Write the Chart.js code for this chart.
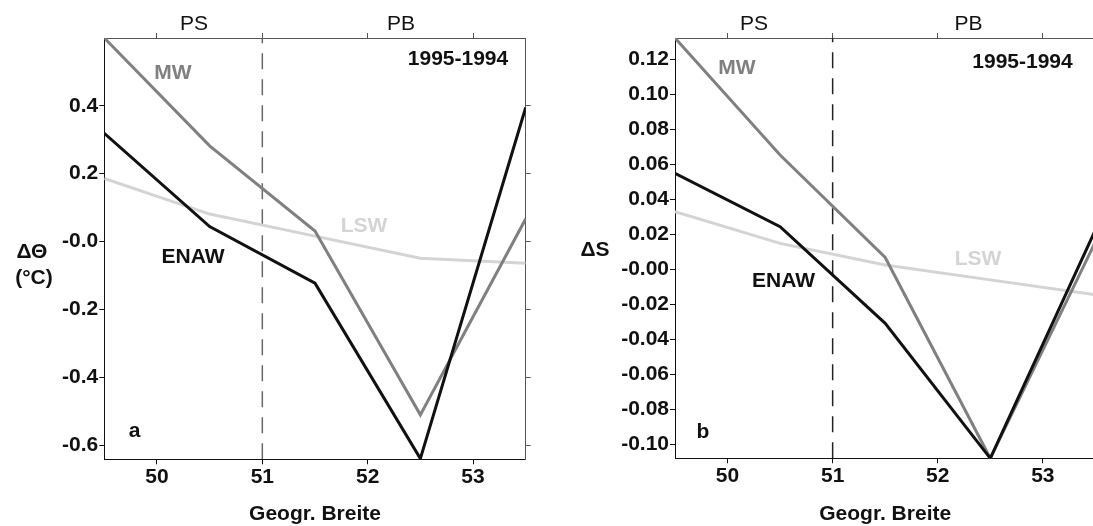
<!DOCTYPE html>
<html>
<head>
<meta charset="utf-8">
<script src="https://cdn.jsdelivr.net/npm/chart.js@4/dist/chart.umd.min.js"></script>
<style>
  html, body { margin: 0; padding: 0; background: #fff; overflow: hidden; width: 1093px; height: 526px; }
  canvas { position: absolute; top: 0; }
  #cTheta { left: 0; }
  #cSal { left: 546px; }
</style>
</head>
<body>
<canvas id="cTheta" width="546" height="526"></canvas>
<canvas id="cSal" width="570" height="526"></canvas>
<script>
// Stationen (geogr. Breite)
const lat = [49.5, 50.5, 51.5, 52.5, 53.5];

// a: Temperaturdifferenz 1995-1994
const thetaMW   = [0.600, 0.282, 0.031, -0.511, 0.067];
const thetaENAW = [0.319, 0.044, -0.123, -0.640, 0.395];
const thetaLSW  = [0.186, 0.081, 0.016, -0.049, -0.064];

// b: Salzgehaltsdifferenz 1995-1994
const salMW   = [0.1320, 0.0652, 0.0068, -0.1078, 0.0157];
const salENAW = [0.0548, 0.0243, -0.0308, -0.1078, 0.0225];
const salLSW  = [0.0329, 0.0148, 0.0025, -0.0060, -0.0145];

// Achsen
const xTicks = [50, 51, 52, 53];
const xTickLabels = ['50', '51', '52', '53'];
const thetaTicks = [0.4, 0.2, 0, -0.2, -0.4, -0.6];
const thetaTickLabels = ['0.4', '0.2', '-0.0', '-0.2', '-0.4', '-0.6'];
const salTicks = [0.12, 0.10, 0.08, 0.06, 0.04, 0.02, 0, -0.02, -0.04, -0.06, -0.08, -0.10];
const salTickLabels = ['0.12', '0.10', '0.08', '0.06', '0.04', '0.02', '-0.00', '-0.02', '-0.04', '-0.06', '-0.08', '-0.10'];
const frontLat = 51;

const FONT = "'Liberation Sans', Arial, Helvetica, sans-serif";
const pts = (ys) => ys.map((y, i) => ({ x: lat[i], y }));

/**
 * Freie Beschriftungen (Wassermassen, Jahr, Panel-Buchstabe)
 */
const textPlugin = {
  id: 'labels',
  afterDraw(chart, args, opts) {
    const { ctx } = chart;
    ctx.save();
    ctx.textAlign = 'center';
    ctx.textBaseline = 'alphabetic';
    (opts.items || []).forEach((it) => {
      ctx.font = `${it.bold === false ? 'normal' : 'bold'} 21px ${FONT}`;
      ctx.fillStyle = it.color || '#111';
      ctx.fillText(it.t, it.x, it.y);
    });
    ctx.restore();
  },
};

function createPanel(canvasId, cfg) {
  const ctx = document.getElementById(canvasId)?.getContext('2d');
  if (!ctx) return null;

  const fixW = (w) => (s) => { s.width = w; };
  const fixH = (h) => (s) => { s.height = h; };
  const setTicks = (vals) => (s) => { s.ticks = vals.map((v) => ({ value: v })); };
  const tickFont = { family: FONT, size: 21, weight: 'bold' };
  const side = { drawOnChartArea: false, drawTicks: true, tickLength: 5, color: '#555' };

  return new Chart(ctx, {
    type: 'line',
    data: {
      datasets: [
        { label: 'ENAW', data: pts(cfg.enaw), borderColor: '#111', borderWidth: 3 },
        { label: 'MW', data: pts(cfg.mw), borderColor: '#808080', borderWidth: 3 },
        { label: 'LSW', data: pts(cfg.lsw), borderColor: '#d4d4d4', borderWidth: 3 },
        {
          label: 'Front',
          data: [{ x: frontLat, y: cfg.yMin }, { x: frontLat, y: cfg.yMax }],
          borderColor: cfg.dashColor, borderWidth: 1.5, borderDash: [16, 10],
        },
      ],
    },
    options: {
      responsive: false,
      animation: false,
      layout: { padding: 0 },
      elements: {
        point: { radius: 0, hoverRadius: 0 },
        line: { tension: 0, borderJoinStyle: 'miter', fill: false },
      },
      plugins: {
        legend: { display: false },
        tooltip: { enabled: false },
        labels: { items: cfg.texts },
      },
      scales: {
        x: {
          type: 'linear', position: 'bottom', min: 49.5, max: 53.5,
          afterBuildTicks: setTicks(xTicks), afterFit: fixH(cfg.bottomH),
          ticks: { font: tickFont, color: '#111', padding: 0, maxRotation: 0, callback: (v, i) => xTickLabels[i] },
          grid: { drawOnChartArea: false, tickLength: 5, color: '#111' },
          border: { color: '#111', width: 1 },
          title: {
            display: true, text: 'Geogr. Breite', color: '#111', padding: 0,
            font: { family: FONT, size: 21, weight: 'bold', lineHeight: 1.1 },
          },
        },
        x2: {
          type: 'linear', position: 'top', min: 49.5, max: 53.5,
          afterBuildTicks: setTicks(xTicks), afterFit: fixH(38),
          ticks: { callback: () => '' },
          grid: side, border: { color: '#555', width: 1 },
        },
        y: {
          type: 'linear', position: 'left', min: cfg.yMin, max: cfg.yMax,
          afterBuildTicks: setTicks(cfg.yTicks), afterFit: fixW(cfg.leftW),
          ticks: { font: tickFont, color: '#111', padding: 1, callback: (v, i) => cfg.yLabels[i] },
          grid: { drawOnChartArea: false, tickLength: 5, color: '#111' },
          border: { color: '#111', width: 1 },
        },
        y2: {
          type: 'linear', position: 'right', min: cfg.yMin, max: cfg.yMax,
          afterBuildTicks: setTicks(cfg.yTicks), afterFit: fixW(cfg.rightW),
          ticks: { callback: () => '' },
          grid: side, border: { color: '#555', width: 1 },
        },
      },
    },
    plugins: [textPlugin],
  });
}

createPanel('cTheta', {
  mw: thetaMW, enaw: thetaENAW, lsw: thetaLSW,
  yMin: -0.642, yMax: 0.6, yTicks: thetaTicks, yLabels: thetaTickLabels,
  leftW: 104.3, rightW: 20.3, bottomH: 66.7, dashColor: '#666',
  texts: [
    { t: 'PS', x: 194, y: 30, bold: false },
    { t: 'PB', x: 401, y: 30, bold: false },
    { t: '1995-1994', x: 458, y: 65 },
    { t: 'MW', x: 173, y: 79, color: '#808080' },
    { t: 'ENAW', x: 193, y: 263 },
    { t: 'LSW', x: 364, y: 232, color: '#d4d4d4' },
    { t: 'a', x: 134.5, y: 437 },
    { t: 'ΔΘ', x: 32, y: 258 },
    { t: '(°C)', x: 34, y: 284 },
  ],
});

createPanel('cSal', {
  mw: salMW, enaw: salENAW, lsw: salLSW,
  yMin: -0.1078, yMax: 0.132, yTicks: salTicks, yLabels: salTickLabels,
  leftW: 129, rightW: 20.6, bottomH: 67.7, dashColor: '#222',
  texts: [
    { t: 'PS', x: 208, y: 30, bold: false },
    { t: 'PB', x: 422.5, y: 30, bold: false },
    { t: '1995-1994', x: 476.5, y: 68 },
    { t: 'MW', x: 191, y: 74, color: '#808080' },
    { t: 'ENAW', x: 237.5, y: 286.7 },
    { t: 'LSW', x: 432, y: 265, color: '#d4d4d4' },
    { t: 'b', x: 157, y: 438 },
    { t: 'ΔS', x: 49, y: 256 },
  ],
});
</script>
</body>
</html>
